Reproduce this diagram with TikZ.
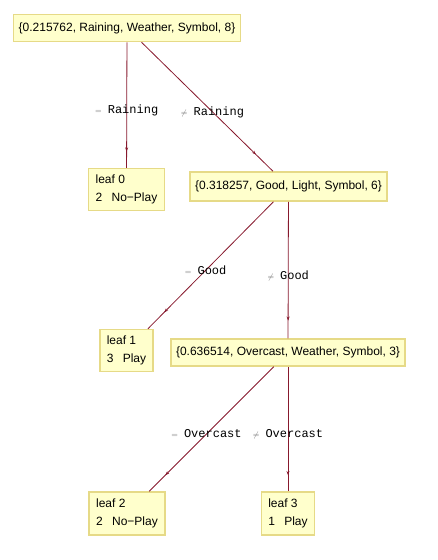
\documentclass[tikz,border=0pt]{standalone}
\usepackage{fontspec}
\setmainfont{Liberation Sans}
\newfontfamily\condfont{Liberation Mono}
\usetikzlibrary{arrows.meta,decorations.markings}
\definecolor{boxfill}{RGB}{255,255,204}
\definecolor{boxline}{RGB}{230,218,135}
\definecolor{edgecolor}{RGB}{135,25,45}

\newcommand{\leafcount}[2]{\makebox[16pt][l]{#1}#2}
\newcommand{\eqcond}[1]{{\color{black!55}\footnotesize$=$}\hspace{6pt}#1}
\newcommand{\neqcond}[1]{{\color{black!55}\footnotesize$\neq$}\hspace{6pt}#1}

\tikzset{
  treebox/.style={draw=boxline, fill=boxfill, line width=1.5pt,
    font=\fontsize{12}{18}\selectfont, inner xsep=5pt, inner ysep=0pt,
    minimum height=27pt},
  leafbox/.style={treebox, align=left, inner xsep=7pt, minimum height=42pt},
  branch/.style={draw=edgecolor, line width=0.8pt, postaction={decorate},
    decoration={markings,
      mark=at position 0.87 with {\arrow{Stealth[length=4pt,width=3pt]}}}},
  cond/.style={font=\condfont\fontsize{12}{14}\selectfont, inner sep=0pt, pos=0.54}
}

\begin{document}
\begin{tikzpicture}[x=1pt, y=-1pt]

\useasboundingbox (0,0) rectangle (438,560);

% ================= SPLIT NODES =================
\node[treebox] (rain) at (127,28)
  {\{0.215762, Raining, Weather, Symbol, 8\}};
\node[treebox, minimum height=29pt] (light) at (288.5,186.5)
  {\{0.318257, Good, Light, Symbol, 6\}};
\node[treebox] (weather) at (288,352.5)
  {\{0.636514, Overcast, Weather, Symbol, 3\}};

% ================= LEAVES =================
\node[leafbox] (leaf0) at (126.5,189.5) {leaf 0\\\leafcount{2}{No−Play}};
\node[leafbox] (leaf1) at (126.5,350.5) {leaf 1\\\leafcount{3}{Play}};
\node[leafbox, minimum height=43pt] (leaf2) at (127,513.5) {leaf 2\\\leafcount{2}{No−Play}};
\node[leafbox, minimum height=43pt] (leaf3) at (288,513.5) {leaf 3\\\leafcount{1}{Play}};

% ================= BRANCHES =================
\draw[branch] (rain) -- node[cond] {\eqcond{Raining}} (leaf0);
\draw[branch] (rain) -- node[cond] {\neqcond{Raining}} (light);

\draw[branch] (light) -- node[cond] {\eqcond{Good}} (leaf1);
\draw[branch] (light) -- node[cond] {\neqcond{Good}} (weather);

\draw[branch] (weather) -- node[cond] {\eqcond{Overcast}} (leaf2);
\draw[branch] (weather) -- node[cond] {\neqcond{Overcast}} (leaf3);

\end{tikzpicture}
\end{document}
